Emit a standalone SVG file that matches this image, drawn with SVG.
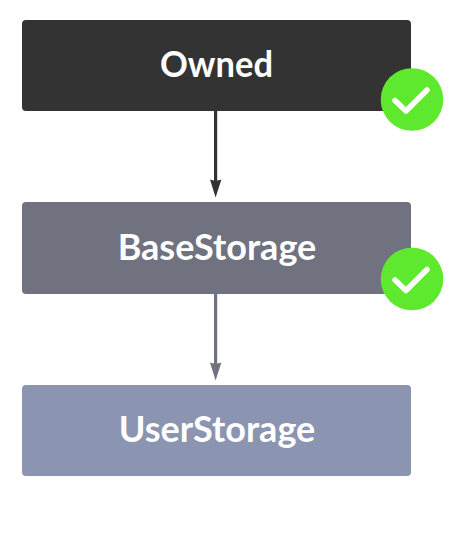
<svg xmlns="http://www.w3.org/2000/svg" width="467" height="534" viewBox="0 0 467 534">
<style>
.n{font:700 36px Lato,"Liberation Sans",sans-serif;fill:#fff;text-anchor:middle}
.c{fill:#5fe92e}
.k{fill:none;stroke:#fff;stroke-width:5.500;stroke-linecap:round;stroke-linejoin:round}
</style>
<rect width="467" height="534" fill="#fff"/>
<g id="connectors">
<path d="M215.600 110V183" stroke="#333" stroke-width="3.200" fill="none"/>
<path d="M210 179.500l5.600 1.500 5.800-1.500-5.800 18z" fill="#333"/>
<path d="M215.600 293V365" stroke="#70727f" stroke-width="3.200" fill="none"/>
<path d="M210 362.500l5.600 1.500 5.800-1.500-5.800 18z" fill="#70727f"/>
</g>
<g id="owned"><rect x="22" y="20" width="389" height="91" rx="4" fill="#333"/><text class="n" x="216.500" y="76.500" textLength="113" lengthAdjust="spacingAndGlyphs">Owned</text></g>
<g id="basestorage"><rect x="22" y="202" width="389" height="92" rx="4" fill="#70727f"/><text class="n" x="217" y="259.500">BaseStorage</text></g>
<g id="userstorage"><rect x="22" y="385" width="389" height="91" rx="4" fill="#8b94b0"/><text class="n" x="217" y="441.500">UserStorage</text></g>
<g id="check1"><circle class="c" cx="412" cy="99.500" r="31.300"/><path class="k" d="M395 100.500l11 10.500 21-21"/></g>
<g id="check2"><circle class="c" cx="412" cy="279" r="31.300"/><path class="k" d="M395 280l11 10.500 21-21"/></g>
</svg>
